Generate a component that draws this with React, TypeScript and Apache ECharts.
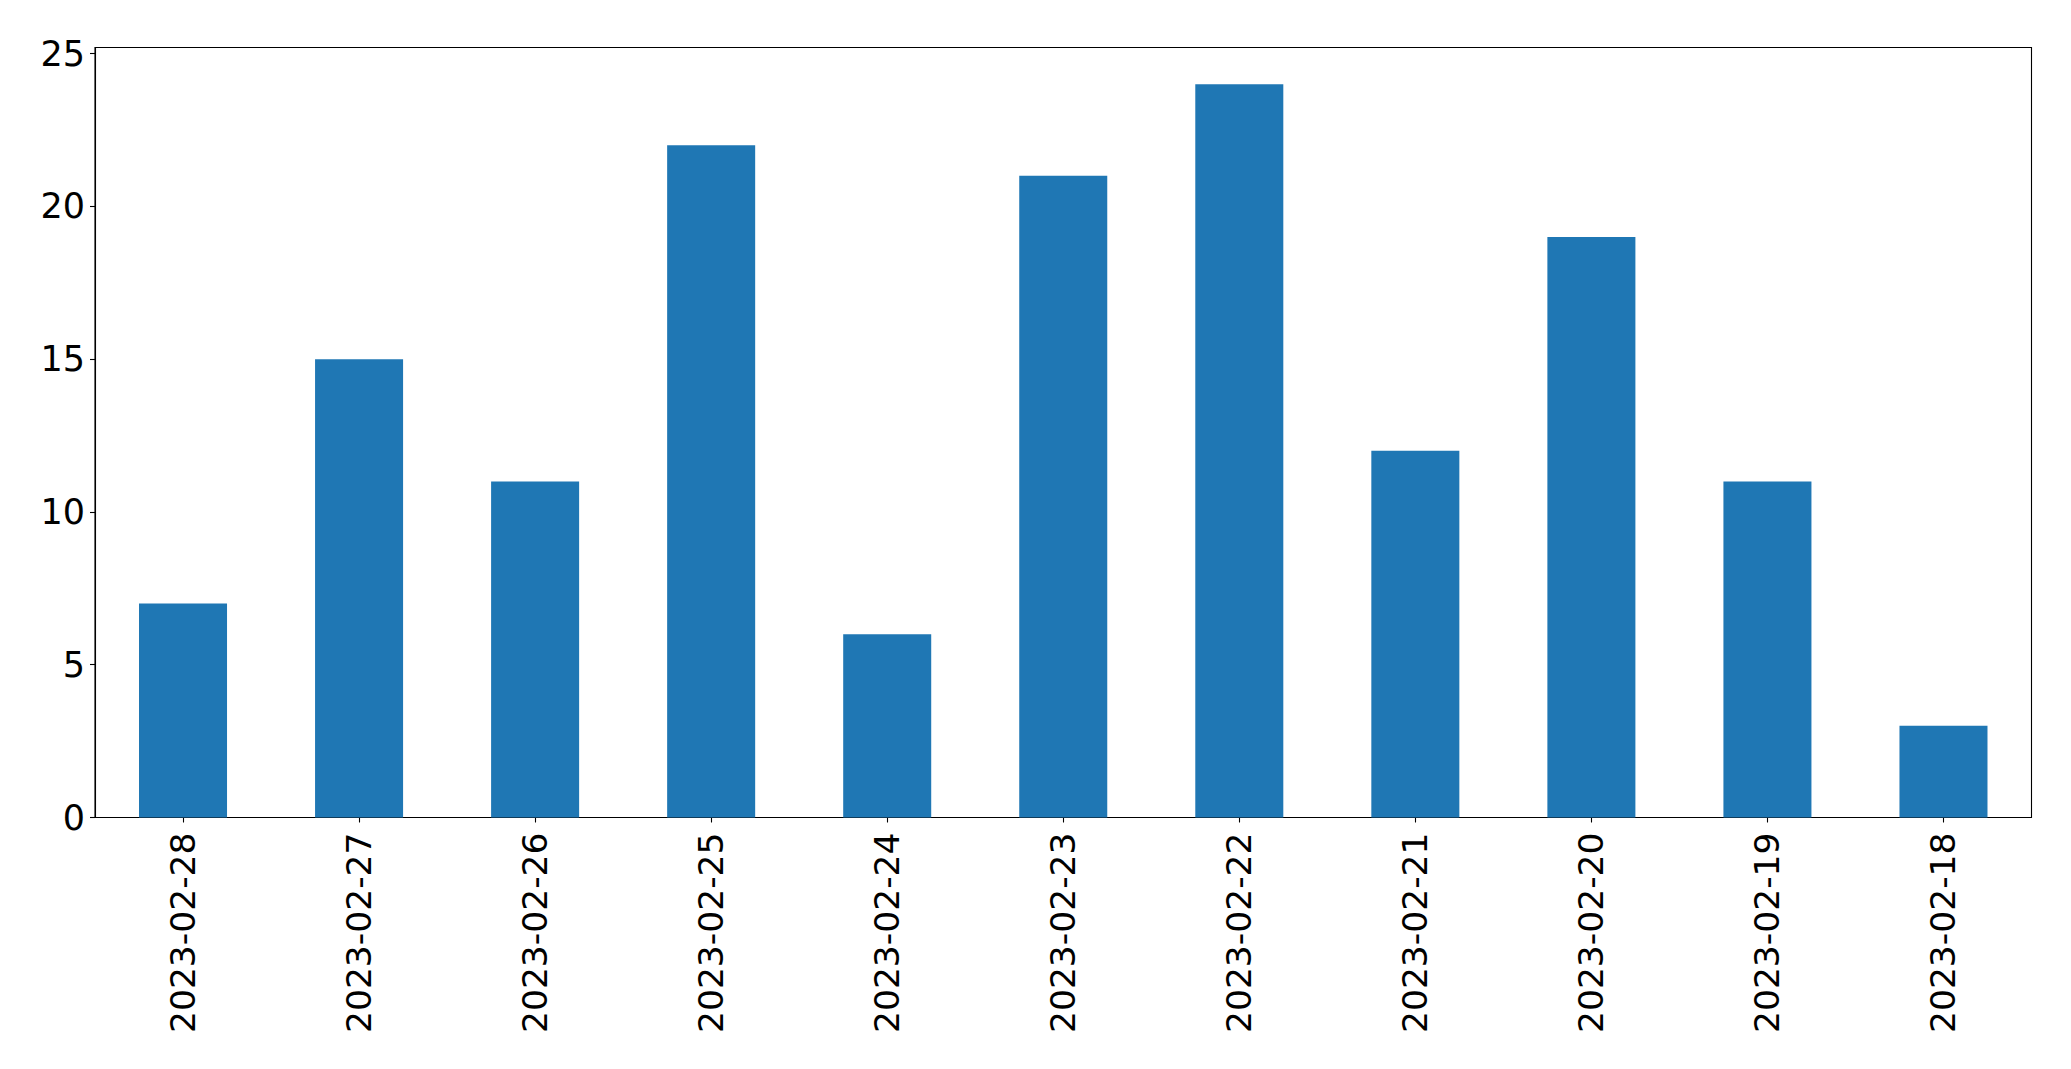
import React, { useEffect, useRef } from "react";
import * as echarts from "echarts";

const categories = [
  "2023-02-28", "2023-02-27", "2023-02-26", "2023-02-25", "2023-02-24", "2023-02-23",
  "2023-02-22", "2023-02-21", "2023-02-20", "2023-02-19", "2023-02-18",
];
const values = [7, 15, 11, 22, 6, 21, 24, 12, 19, 11, 3];
const yTicks = [0, 5, 10, 15, 20, 25];

export default function App() {
  const ref = useRef<HTMLDivElement>(null);
  useEffect(() => {
    if (!ref.current) return;
    const chart = echarts.init(ref.current, null, { renderer: "svg" });
    const font = "DejaVu Sans";
    chart.setOption({
      animation: false,
      backgroundColor: "#ffffff",
      grid: {
        left: 95,
        right: 39.5,
        top: 47.5,
        bottom: 251.5,
        containLabel: false,
        show: true,
        borderColor: "#000000",
        borderWidth: 1.1,
        backgroundColor: "transparent",
      },
      xAxis: {
        type: "category",
        data: categories,
        boundaryGap: true,
        axisLine: { show: true, lineStyle: { color: "#000", width: 1.1 } },
        axisTick: { show: true, alignWithLabel: true, length: 5, lineStyle: { color: "#000", width: 1.1 } },
        axisLabel: { rotate: 90, margin: 15, fontSize: 34.5, fontFamily: font, color: "#000", interval: 0 },
        splitLine: { show: false },
      },
      yAxis: {
        type: "value",
        min: 0,
        max: 25.2,
        axisLine: { show: true, lineStyle: { color: "#000", width: 1.1 } },
        axisTick: { show: true, length: 5, customValues: yTicks, lineStyle: { color: "#000", width: 1.1 } },
        axisLabel: { margin: 10, fontSize: 35, fontFamily: font, color: "#000", customValues: yTicks },
        splitLine: { show: false },
      },
      series: [
        {
          type: "bar",
          data: values,
          barWidth: "50%",
          itemStyle: { color: "#1f77b4" },
        },
      ],
    });
    return () => chart.dispose();
  }, []);
  return (
    <div
      ref={ref}
      style={{ position: "fixed", left: 0, top: 0, width: 2071, height: 1069, background: "#fff" }}
    />
  );
}
